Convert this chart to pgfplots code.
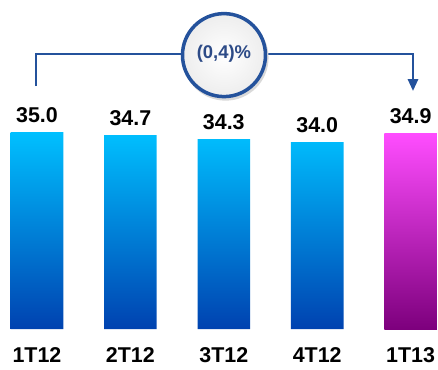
\documentclass[border=0pt]{standalone}
\usepackage{fontspec}
\setmainfont{Liberation Sans}
\usepackage{pgfplots}
\pgfplotsset{compat=1.18}
\usetikzlibrary{arrows.meta}
\definecolor{cyantop}{RGB}{0,192,255}
\definecolor{bluebot}{RGB}{0,66,176}
\definecolor{magtop}{RGB}{255,77,255}
\definecolor{magbot}{RGB}{125,0,125}
\definecolor{linblue}{RGB}{36,82,156}
\definecolor{txtblue}{RGB}{45,75,135}
\begin{document}
\begin{tikzpicture}
\begin{axis}[
  scale only axis, width=438bp, height=369bp,
  xmin=-0.396, xmax=4.293,
  ymin=11.3, ymax=48.2,
  y coord trafo/.code={\pgfmathparse{#1-15.3}},
  y coord inv trafo/.code={\pgfmathparse{#1+15.3}},
  axis line style={draw=none},
  ytick=\empty,
  xtick={0,1,2,3,4},
  xticklabels={1T12,2T12,3T12,4T12,1T13},
  major tick length=0pt,
  xticklabel style={anchor=base, yshift=7bp, inner sep=0pt, font=\fontsize{21.5}{24}\selectfont\bfseries},
  ybar, bar width=52.6bp, bar shift=0pt,
  point meta=explicit symbolic,
  nodes near coords={\pgfplotspointmeta},
  every node near coord/.append style={font=\fontsize{21.5}{24}\selectfont\bfseries, inner sep=0pt, yshift=9bp, text=black},
  clip=false,
]
\addplot[draw=none, top color=cyantop, bottom color=bluebot] coordinates {(0,35.0) [35.0] (1,34.7) [34.7] (2,34.3) [34.3] (3,34.0) [34.0]};
\addplot[draw=none, top color=magtop, bottom color=magbot] coordinates {(4,34.9) [34.9]};
\draw[linblue, line width=2.8bp, -{Triangle[width=10bp,length=12bp]}]
  (rel axis cs:0.0822,0.7669) -- (rel axis cs:0.0822,0.8537) -- (rel axis cs:0.9429,0.8537) -- (rel axis cs:0.9429,0.7534);
\fill[black!15] (rel axis cs:0.5150,0.8440) circle[radius=43bp];
\draw[linblue, line width=3.5bp, inner color=white, outer color=white!93!black] (rel axis cs:0.5114,0.8509) circle[radius=41.5bp];
\node[txtblue, font=\fontsize{18.5}{20}\selectfont\bfseries] at (rel axis cs:0.5114,0.8537) {(0,4)\%};
\end{axis}
\end{tikzpicture}
\end{document}
